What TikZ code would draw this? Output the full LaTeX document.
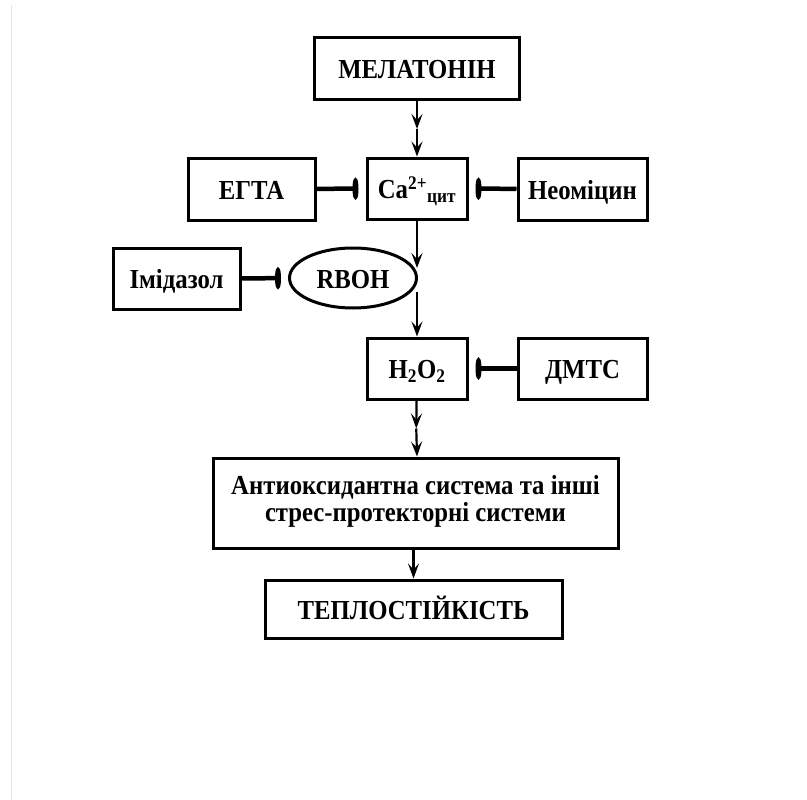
\documentclass[tikz,border=0pt]{standalone}
\usepackage{fontspec}
\setmainfont[FakeStretch=0.9]{Liberation Serif}
\usetikzlibrary{arrows.meta, positioning, shapes.geometric, calc}

\begin{document}
\begin{tikzpicture}[x=1pt, y=-1pt, line width=2.2pt,
    every node/.style={font=\bfseries\fontsize{27.5}{27}\selectfont, inner sep=2pt},
    box/.style={draw, rectangle, line width=3pt, text height=25pt, text depth=5pt},
    arr/.style={-{Stealth[length=15pt, width=11pt, inset=6pt]}},
    inh/.style={line width=4.5pt, -{Ellipse[length=6pt, width=21pt]}, shorten >=7pt}]
			\useasboundingbox (0,0) rectangle (807,800);
			\draw[black!10, line width=1pt] (11,5) -- (11,800);

			% Draw the boxes
			\node[box, minimum width=205pt, minimum height=62pt] (mel) at (417,69) {МЕЛАТОНІН};
			\node[box, minimum width=100pt, minimum height=61pt] (ca) at (417,188.5) {Ca\textsuperscript{2+}\textsubscript{цит}};
			\node[box, minimum width=127pt, minimum height=62pt] (egta) at (251.5,189) {ЕГТА};
			\node[box, minimum width=129pt, minimum height=62pt] (neo) at (582.5,189) {Неоміцин};
			\node[box, minimum width=127pt, minimum height=61pt] (imid) at (176.5,278.5) {Імідазол};
			\node[draw, ellipse, line width=3pt, minimum width=127pt, minimum height=60pt,
				text height=25pt, text depth=5pt] (rboh) at (353,278) {RBOH};
			\node[box, minimum width=100pt, minimum height=61pt] (hoo) at (417,368.5) {H\textsubscript{2}O\textsubscript{2}};
			\node[box, minimum width=129pt, minimum height=61pt] (dmts) at (582.5,368.5) {ДМТС};
			\node[draw, rectangle, line width=3pt, minimum width=405pt, minimum height=90pt, align=center,
				text depth=10pt] (antiox) at (415.5,503)
				{Антиоксидантна система та інші\\стрес-протекторні системи};
			\node[box, minimum width=297pt, minimum height=58pt] (heat) at (413.5,609) {ТЕПЛОСТІЙКІСТЬ};

			% Draw the arrows
			\coordinate (m1) at ($(mel.south)!0.5!(ca.north)$);
			\draw[arr] (mel) -- (m1);
			\draw[arr] (m1) -- (ca);
			\coordinate (r1) at ([yshift=10pt]rboh.east);
			\coordinate (r2) at ([yshift=-14pt]rboh.east);
			\draw[arr] (ca) -- (ca.south |- r1);
			\draw[arr] (hoo.north |- r2) -- (hoo);
			\coordinate (m2) at ($(hoo.south)!0.5!(antiox.north)$);
			\draw[arr] (hoo) -- (m2);
			\draw[arr] (m2) -- (hoo.south |- antiox.north);
			\draw[arr] (antiox.south -| heat.north) -- (heat);

			% Draw the inhibitors
			\draw[inh] (egta) -- (ca);
			\draw[inh] (neo) -- (ca);
			\draw[inh] (imid) -- (rboh);
			\draw[inh] (dmts) -- (hoo);

		\end{tikzpicture}
\end{document}
